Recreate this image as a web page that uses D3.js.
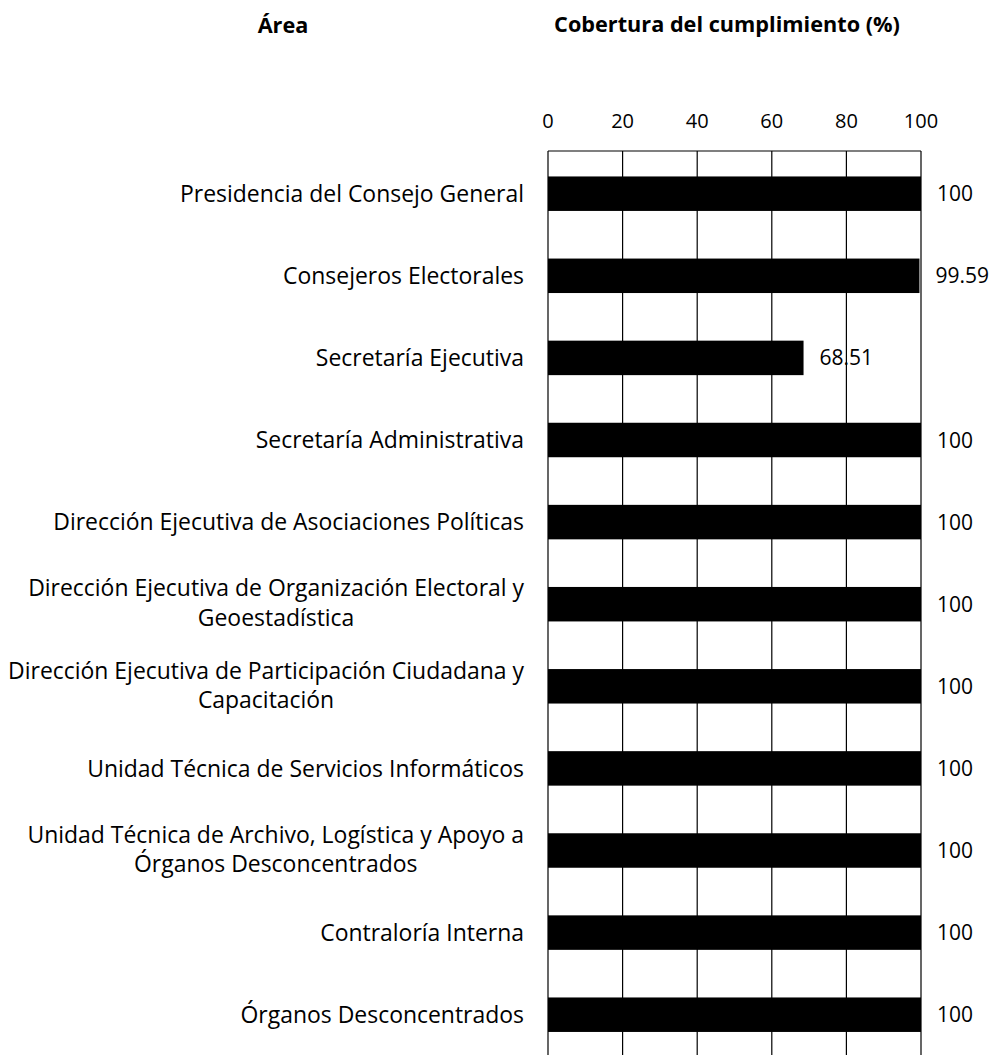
<!DOCTYPE html>
<html>
<head>
<meta charset="utf-8">
<script src="https://cdn.jsdelivr.net/npm/d3@7"></script>
<style>
  body { margin: 0; background: #fff; }
  svg { display: block; font-family: "Open Sans", Lato, sans-serif; }
  .cat-label { fill: #000; }
  .val-label { font-size: 21px; fill: #000; }
  .tick-label { font-size: 20px; fill: #000; }
  .head { font-weight: bold; fill: #000; }
  .grid { stroke: #000; stroke-width: 1.2; }
</style>
</head>
<body>
<div id="chart"></div>
<script>
// categories (each entry is the lines of the wrapped label)
let areas = [
  ["Presidencia del Consejo General"],
  ["Consejeros Electorales"],
  ["Secretaría Ejecutiva"],
  ["Secretaría Administrativa"],
  ["Dirección Ejecutiva de Asociaciones Políticas"],
  ["Dirección Ejecutiva de Organización Electoral y", "Geoestadística"],
  ["Dirección Ejecutiva de Participación Ciudadana y", "Capacitación"],
  ["Unidad Técnica de Servicios Informáticos"],
  ["Unidad Técnica de Archivo, Logística y Apoyo a", "Órganos Desconcentrados"],
  ["Contraloría Interna"],
  ["Órganos Desconcentrados"]
];
let coverage = [100, 99.59, 68.51, 100, 100, 100, 100, 100, 100, 100, 100];
let coverage_labels = ["100", "99.59", "68.51", "100", "100", "100", "100", "100", "100", "100", "100"];
let x_ticks = [0, 20, 40, 60, 80, 100];
let head_area = "Área";
let head_value = "Cobertura del cumplimiento (%)";

let total_width = 1004;
let total_height = 1055;
let plot_left = 548, plot_right = 921;
let plot_top = 151, band_step = 82.4;

let svg = d3.select("#chart").append("svg")
  .attr("width", total_width)
  .attr("height", total_height);

let x = d3.scaleLinear().domain([0, 100]).range([plot_left, plot_right]);
let y = d3.scaleBand()
  .domain(d3.range(areas.length))
  .range([plot_top, plot_top + band_step * areas.length])
  .paddingInner(0.58).paddingOuter(0.31);

// helper: size a text so its width matches the one in the picture
function fitSize(sel, txt, target, base){
  let t = sel.append("text").attr("font-size", base).text(txt);
  let w = t.node().getComputedTextLength();
  t.remove();
  return base * target / w;
}

// headers
let head_size = fitSize(svg.append("g").attr("class", "head"), head_value, 346, 20);
svg.append("text").attr("class", "head")
  .attr("font-size", head_size)
  .attr("x", 283).attr("y", 33).attr("text-anchor", "middle")
  .text(head_area);
svg.append("text").attr("class", "head")
  .attr("font-size", head_size)
  .attr("x", 727).attr("y", 32).attr("text-anchor", "middle")
  .text(head_value);

// tick labels on top
svg.append("g").selectAll("text").data(x_ticks).enter().append("text")
  .attr("class", "tick-label")
  .attr("x", d => x(d))
  .attr("y", 128)
  .attr("text-anchor", "middle")
  .text(d => d);

// grid: vertical lines + top border
let plot_bottom = plot_top + band_step * areas.length;
svg.append("g").selectAll("line").data(x_ticks).enter().append("line")
  .attr("class", "grid")
  .attr("x1", d => x(d)).attr("x2", d => x(d))
  .attr("y1", plot_top).attr("y2", plot_bottom);
svg.append("line").attr("class", "grid")
  .attr("x1", x(0)).attr("x2", x(100))
  .attr("y1", plot_top).attr("y2", plot_top);

// bars
svg.append("g").selectAll("rect").data(coverage).enter().append("rect")
  .attr("x", x(0))
  .attr("y", (d, i) => y(i))
  .attr("width", d => x(d) - x(0))
  .attr("height", y.bandwidth())
  .attr("fill", "#000");

// value labels
svg.append("g").selectAll("text").data(coverage).enter().append("text")
  .attr("class", "val-label")
  .attr("x", d => x(d) + 16)
  .attr("y", (d, i) => y(i) + y.bandwidth() / 2)
  .attr("dy", "0.36em")
  .text((d, i) => coverage_labels[i]);

// category labels, right aligned block, wrapped lines centered within block
let cat = svg.append("g").attr("class", "cat-label");
let cat_size = fitSize(cat, "Dirección Ejecutiva de Participación Ciudadana y", 516, 20);
cat.attr("font-size", cat_size);
let label_right = 524;
let line_h = 29.5;
areas.forEach((lines, i) => {
  let cy = y(i) + y.bandwidth() / 2;
  if (lines.length === 1) {
    cat.append("text")
      .attr("x", label_right).attr("y", cy).attr("dy", "0.36em")
      .attr("text-anchor", "end").text(lines[0]);
  } else {
    let t = cat.append("text").attr("text-anchor", "middle");
    let first = t.append("tspan").text(lines[0]);
    let w = first.node().getComputedTextLength();
    let mid = label_right - w / 2;
    first.attr("x", mid).attr("y", cy - 16).attr("dy", "0.36em");
    t.append("tspan")
      .attr("x", mid).attr("y", cy - 16 + line_h).attr("dy", "0.36em")
      .text(lines[1]);
  }
});
</script>
</body>
</html>
